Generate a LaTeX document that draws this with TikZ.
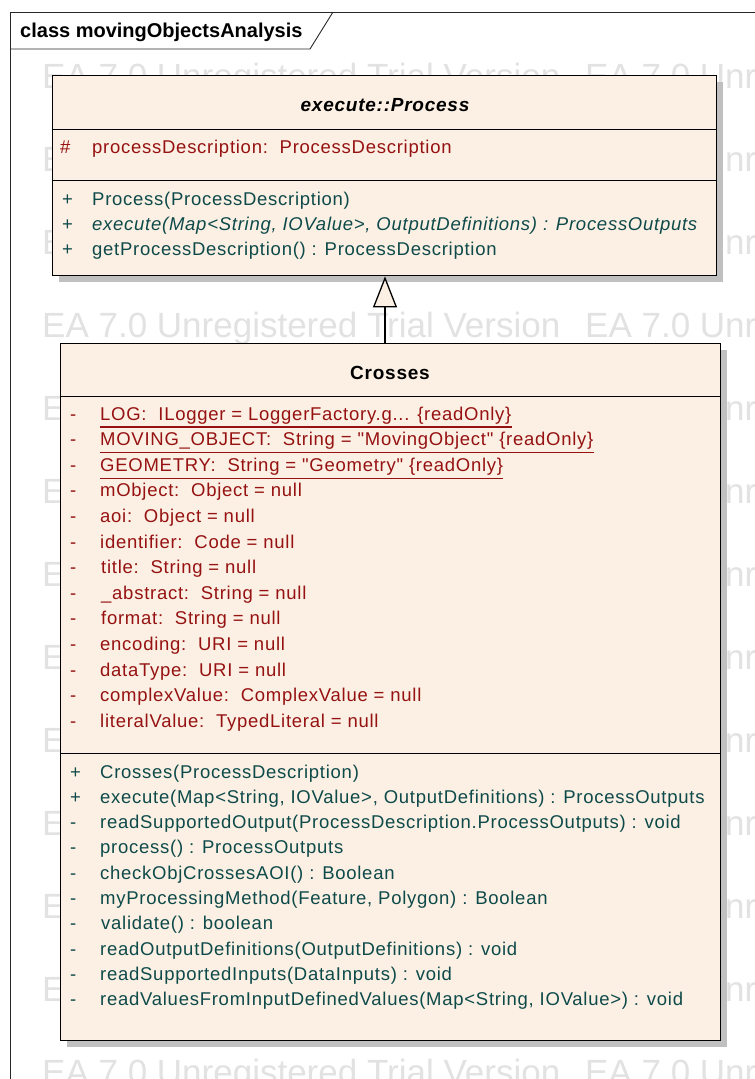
\documentclass[tikz,border=0pt]{standalone}
\usepackage{fontspec}
\setmainfont{Liberation Sans}
\newfontfamily\umlfont{Liberation Sans}[LetterSpace=4]
\usetikzlibrary{arrows.meta,shadows}

\definecolor{boxfill}{RGB}{251,240,227}
\definecolor{attrred}{RGB}{150,18,18}
\definecolor{opteal}{RGB}{14,74,74}
\definecolor{wmgray}{RGB}{226,226,226}
\definecolor{shadowgray}{RGB}{192,192,192}
\definecolor{framegray}{RGB}{40,40,40}

\begin{document}
\begin{tikzpicture}[x=1pt,y=-1pt,
  frameline/.style={draw=framegray, line width=0.9pt},
  clsbox/.style={draw=black, line width=1.4pt, fill=boxfill, inner sep=0pt,
    drop shadow={shadow xshift=6pt, shadow yshift=-6pt, fill=shadowgray, opacity=1}},
  sepline/.style={draw=black, line width=1pt},
  txt/.style={inner sep=0pt, anchor=base west, font=\umlfont\fontsize{18.5}{20}\selectfont},
  attr/.style={txt, text=attrred},
  oper/.style={txt, text=opteal},
  head/.style={inner sep=0pt, anchor=base, font=\umlfont\fontsize{19}{20}\selectfont\bfseries},
  wmark/.style={inner sep=0pt, anchor=base west, text=wmgray, font=\fontsize{35}{35}\selectfont},
  static/.style={draw=attrred, line width=1.2pt},
  generalization/.style={draw=black, line width=1.3pt,
    -{Triangle[open, length=31pt, width=24pt, fill=boxfill]}}
]
\useasboundingbox (0,0) rectangle (755,1079);
\fill[white] (0,0) rectangle (755,1079);

% watermark rows, kept inside the diagram frame
\begin{scope}
  \clip (11,50) rectangle (755,1079);
  \foreach \k in {0,...,12} {
    \node[wmark] (wmA\k) at (42,88+83*\k) {EA 7.0 Unregistered Trial Version};
    \node[wmark] (wmB\k) at (585,88+83*\k) {EA 7.0 Unregistered Trial Version};
  }
\end{scope}

% diagram frame with its name tab
\draw[frameline] (755,12) -- (10,12) -- (10,1079);
\draw[frameline] (333,12) -- (310,49) -- (10,49);
\node[inner sep=0pt, anchor=base west, font=\fontsize{20}{22}\selectfont\bfseries] (title) at (20,37) {class movingObjectsAnalysis};

% ---------- execute::Process ----------
\node[clsbox, anchor=north west, minimum width=664pt, minimum height=200pt] (proc) at (52,75) {};
\draw[sepline] (proc.west |- 0,129) -- (proc.east |- 0,129);
\draw[sepline] (proc.west |- 0,180) -- (proc.east |- 0,180);
\node[head, font=\umlfont\fontsize{19}{20}\selectfont\bfseries\itshape] (procname) at (385,111) {execute::Process};

\node[attr] (pam) at (60,153) {\#};
\node[attr] (pa1) at (92,153) {processDescription:\ \ ProcessDescription};

\node[oper] (pom1) at (62,205) {+};
\node[oper] (po1) at (92,205) {Process(ProcessDescription)};
\node[oper] (pom2) at (62,230) {+};
\node[oper, font=\umlfont\fontsize{18.5}{20}\selectfont\itshape] (po2) at (92,230) {execute(Map<String, IOValue>, OutputDefinitions) : ProcessOutputs};
\node[oper] (pom3) at (62,255) {+};
\node[oper] (po3) at (92,255) {getProcessDescription() : ProcessDescription};

% ---------- Crosses ----------
\node[clsbox, anchor=north west, minimum width=660pt, minimum height=697pt] (cross) at (60,343) {};
\draw[sepline] (cross.west |- 0,396) -- (cross.east |- 0,396);
\draw[sepline] (cross.west |- 0,753) -- (cross.east |- 0,753);
\node[head] (crossname) at (390,379) {Crosses};

% attributes
\foreach \i in {1,...,13} {
  \node[attr] (cam\i) at (70,394.4+25.6*\i) {-};
}
\node[attr] (ca1) at (100,420) {LOG:\ \ ILogger = LoggerFactory.g... \{readOnly\}};
\node[attr] (ca2) at (100,445.6) {MOVING\_OBJECT:\ \ String = "MovingObject" \{readOnly\}};
\node[attr] (ca3) at (100,471.2) {GEOMETRY:\ \ String = "Geometry" \{readOnly\}};
\node[attr] (ca4) at (100,496.8) {mObject:\ \ Object = null};
\node[attr] (ca5) at (100,522.4) {aoi:\ \ Object = null};
\node[attr] (ca6) at (100,548) {identifier:\ \ Code = null};
\node[attr] (ca7) at (101,573.6) {title:\ \ String = null};
\node[attr] (ca8) at (101,599.2) {\_abstract:\ \ String = null};
\node[attr] (ca9) at (101,624.8) {format:\ \ String = null};
\node[attr] (ca10) at (100,650.4) {encoding:\ \ URI = null};
\node[attr] (ca11) at (100,676) {dataType:\ \ URI = null};
\node[attr] (ca12) at (100,701.6) {complexValue:\ \ ComplexValue = null};
\node[attr] (ca13) at (100,727.2) {literalValue:\ \ TypedLiteral = null};

% static attributes are underlined
\foreach \n in {ca1,ca2,ca3} {
  \draw[static] ([yshift=-7pt]\n.base west) -- ([yshift=-7pt]\n.base east);
}

% operations
\node[oper] (com1) at (70,778) {+};
\node[oper] (com2) at (70,803.3) {+};
\foreach \i in {3,...,10} {
  \node[oper] (com\i) at (70,752.7+25.3*\i) {-};
}
\node[oper] (co1) at (100,778) {Crosses(ProcessDescription)};
\node[oper] (co2) at (100,803.3) {execute(Map<String, IOValue>, OutputDefinitions) : ProcessOutputs};
\node[oper] (co3) at (100,828.6) {readSupportedOutput(ProcessDescription.ProcessOutputs) : void};
\node[oper] (co4) at (100,853.9) {process() : ProcessOutputs};
\node[oper] (co5) at (100,879.2) {checkObjCrossesAOI() : Boolean};
\node[oper] (co6) at (100,904.5) {myProcessingMethod(Feature, Polygon) : Boolean};
\node[oper] (co7) at (101,929.8) {validate() : boolean};
\node[oper] (co8) at (100,955.1) {readOutputDefinitions(OutputDefinitions) : void};
\node[oper] (co9) at (100,980.4) {readSupportedInputs(DataInputs) : void};
\node[oper] (co10) at (100,1005.7) {readValuesFromInputDefinedValues(Map<String, IOValue>) : void};

% generalization Crosses -> Process
\draw[generalization] (385,0 |- cross.north) -- (385,0 |- proc.south);
\end{tikzpicture}
\end{document}
